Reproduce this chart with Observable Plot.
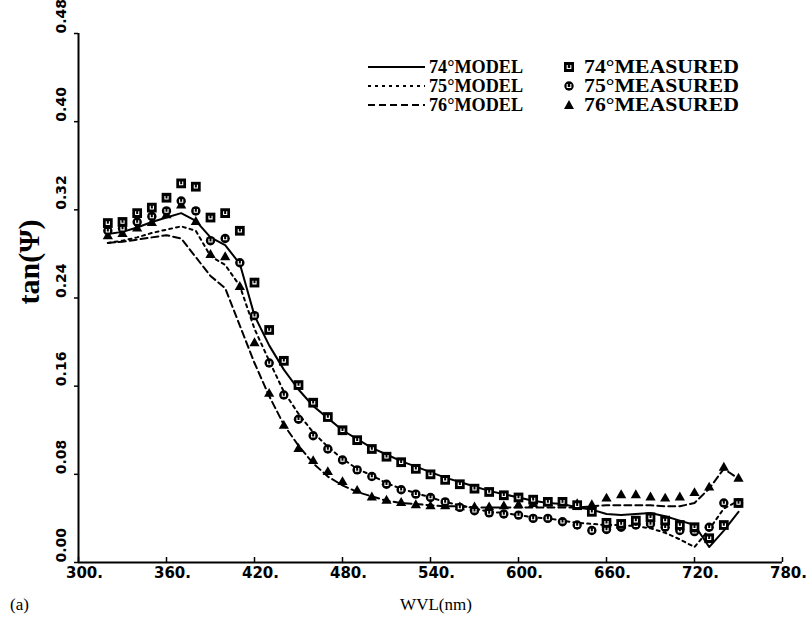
<!DOCTYPE html>
<html><head><meta charset="utf-8">
<script src="https://cdn.jsdelivr.net/npm/d3@7"></script>
<script src="https://cdn.jsdelivr.net/npm/@observablehq/plot@0.6"></script>
<style>
body{margin:0;background:#fff;}
#wrap{position:relative;width:812px;height:619px;background:#fff;}
#wrap svg.plot{position:absolute;left:0;top:0;}
.ov{position:absolute;font-family:"Liberation Serif",serif;color:#000;white-space:nowrap;}
#legend{position:absolute;left:0;top:0;}
</style></head><body><div id="wrap"></div>
<script>
const wl = [320,330,340,350,360,370,380,390,400,410,420,430,440,450,460,470,480,490,500,510,520,530,540,550,560,570,580,590,600,610,620,630,640,650,660,670,680,690,700,710,720,730,740,750];
const model74 = [0.298,0.300,0.304,0.309,0.313,0.317,0.310,0.295,0.288,0.271,0.224,0.197,0.175,0.157,0.142,0.131,0.120,0.112,0.104,0.098,0.092,0.087,0.082,0.077,0.073,0.069,0.065,0.062,0.059,0.056,0.054,0.053,0.050,0.048,0.044,0.043,0.044,0.045,0.042,0.038,0.034,0.014,0.029,0.046];
const model75 = [0.290,0.292,0.295,0.299,0.302,0.305,0.301,0.278,0.270,0.251,0.212,0.183,0.155,0.135,0.118,0.105,0.094,0.085,0.079,0.072,0.067,0.063,0.059,0.055,0.052,0.049,0.046,0.045,0.043,0.041,0.040,0.038,0.036,0.035,0.034,0.034,0.033,0.031,0.027,0.021,0.014,0.030,0.049,0.056];
const model76 = [0.290,0.291,0.293,0.295,0.297,0.294,0.277,0.260,0.249,0.215,0.181,0.151,0.125,0.106,0.090,0.078,0.070,0.064,0.060,0.056,0.054,0.053,0.052,0.051,0.051,0.050,0.050,0.050,0.050,0.050,0.050,0.050,0.050,0.051,0.052,0.052,0.052,0.052,0.051,0.051,0.054,0.067,0.085,0.076];
const meas74 = [0.308,0.309,0.317,0.322,0.331,0.344,0.341,0.313,0.317,0.301,0.254,0.211,0.183,0.161,0.145,0.132,0.120,0.111,0.103,0.096,0.091,0.085,0.080,0.075,0.071,0.067,0.064,0.061,0.059,0.057,0.055,0.055,0.052,0.046,0.036,0.035,0.038,0.041,0.038,0.034,0.032,0.022,0.034,0.054];
const meas75 = [0.301,0.303,0.309,0.314,0.319,0.328,0.319,0.292,0.294,0.272,0.224,0.181,0.152,0.130,0.115,0.103,0.093,0.084,0.078,0.071,0.066,0.062,0.059,0.055,0.050,0.047,0.045,0.044,0.043,0.040,0.040,0.037,0.034,0.029,0.030,0.032,0.034,0.035,0.032,0.029,0.028,0.032,0.054,0.054];
const meas76 = [0.296,0.298,0.303,0.308,0.315,0.324,0.309,0.279,0.277,0.250,0.199,0.153,0.124,0.103,0.092,0.082,0.073,0.065,0.059,0.056,0.054,0.052,0.051,0.051,0.050,0.050,0.050,0.051,0.052,0.053,0.054,0.054,0.053,0.052,0.058,0.061,0.061,0.059,0.058,0.059,0.063,0.068,0.086,0.076];
const xTicks = [300,360,420,480,540,600,660,720,780];
const xTickLabels = ["300.","360.","420.","480.","540.","600.","660.","720.","780."];
const yTicks = [0,0.08,0.16,0.24,0.32,0.40,0.48];
const yTickLabels = ["0.00","0.08","0.16","0.24","0.32","0.40","0.48"];
const legendModel = ["74°MODEL","75°MODEL","76°MODEL"];
const legendMeas = ["74°MEASURED","75°MEASURED","76°MEASURED"];

const rows = wl.map((w,i)=>({w, s74:model74[i], s75:model75[i], s76:model76[i], m74:meas74[i], m75:meas75[i], m76:meas76[i]}));

// small white "u" glyph drawn inside the square and circle markers
const uMark = {
  draw(ctx, size) {
    const r = Math.sqrt(size / Math.PI);
    ctx.moveTo(-r * 0.6, -r * 0.7);
    ctx.lineTo(-r * 0.6, r * 0.5);
    ctx.lineTo(r * 0.6, r * 0.5);
    ctx.lineTo(r * 0.6, -r * 0.7);
  }
};

const DOT = "3,4", DASH = "7,4";
const tickFont = "DejaVu Sans";
const chart = Plot.plot({
  width: 812, height: 619,
  marginLeft: 78, marginRight: 30, marginTop: 33, marginBottom: 57,
  x: {domain: [300, 780]},
  y: {domain: [0, 0.48]},
  style: {background: "#fff", color: "#000"},
  marks: [
    Plot.axisX({ticks: xTicks, tickSize: -5, tickFormat: () => "", label: null, strokeWidth: 1.5}),
    Plot.axisY({ticks: yTicks, tickSize: 4, tickFormat: () => "", label: null, strokeWidth: 1.5}),
    Plot.ruleY([0], {stroke: "#000", strokeWidth: 2}),
    Plot.ruleX([300], {stroke: "#000", strokeWidth: 2}),
    Plot.text(xTicks, {x: d => d, frameAnchor: "bottom", dy: 15, dx: 6, text: (d, i) => xTickLabels[i],
      fontFamily: tickFont, fontWeight: "bold", fontSize: 15, fill: "#000"}),
    Plot.text(yTicks, {y: d => d, frameAnchor: "left", dx: -17, rotate: -90, textAnchor: "start",
      text: (d, i) => yTickLabels[i], fontFamily: tickFont, fontWeight: "bold", fontSize: 14, fill: "#000"}),
    Plot.line(rows, {x: "w", y: "s74", stroke: "#000", strokeWidth: 2}),
    Plot.line(rows, {x: "w", y: "s75", stroke: "#000", strokeWidth: 2, strokeDasharray: DOT}),
    Plot.line(rows, {x: "w", y: "s76", stroke: "#000", strokeWidth: 2, strokeDasharray: DASH}),
    Plot.dot(rows, {x: "w", y: "m76", symbol: "triangle", fill: "#000", r: 3.8}),
    Plot.dot(rows, {x: "w", y: "m75", symbol: "circle", fill: "#000", r: 4.7}),
    Plot.dot(rows, {x: "w", y: "m75", symbol: uMark, fill: "none", stroke: "#fff", strokeWidth: 1.1, r: 2.6}),
    Plot.dot(rows, {x: "w", y: "m74", symbol: "square", fill: "#000", r: 5.5}),
    Plot.dot(rows, {x: "w", y: "m74", symbol: uMark, fill: "none", stroke: "#fff", strokeWidth: 1.1, r: 2.6})
  ]
});
chart.classList.add("plot");
const wrap = document.getElementById("wrap");
wrap.appendChild(chart);

// legend overlay
const ns = "http://www.w3.org/2000/svg";
const lg = document.createElementNS(ns, "svg");
lg.setAttribute("id", "legend");
lg.setAttribute("width", 812);
lg.setAttribute("height", 140);
const dashes = [null, DOT, DASH];
const rowY = [67, 86, 105];
function el(tag, attrs, text) {
  const e = document.createElementNS(ns, tag);
  for (const k in attrs) e.setAttribute(k, attrs[k]);
  if (text) e.textContent = text;
  lg.appendChild(e);
  return e;
}
function uPath(cx, cy) {
  el("path", {d: `M${cx - 1.8},${cy - 2}V${cy + 1.5}H${cx + 1.8}V${cy - 2}`, fill: "none", stroke: "#fff", "stroke-width": 1.1});
}
legendModel.forEach((t, i) => {
  const l = el("line", {x1: 368, x2: 425, y1: rowY[i], y2: rowY[i], stroke: "#000", "stroke-width": 2});
  if (dashes[i]) l.setAttribute("stroke-dasharray", dashes[i]);
  el("text", {x: 429, y: rowY[i] + 6, "font-family": "Liberation Serif", "font-weight": "bold", "font-size": 18, textLength: 94, lengthAdjust: "spacingAndGlyphs"}, t);
});
legendMeas.forEach((t, i) => {
  const cx = 569, cy = rowY[i];
  if (i === 0) { el("rect", {x: cx - 5, y: cy - 5, width: 10, height: 10, fill: "#000"}); uPath(cx, cy); }
  if (i === 1) { el("circle", {cx, cy, r: 4.7, fill: "#000"}); uPath(cx, cy); }
  if (i === 2) { el("path", {d: `M${cx},${cy - 5}L${cx + 5},${cy + 4}L${cx - 5},${cy + 4}Z`, fill: "#000"}); }
  el("text", {x: 584, y: rowY[i] + 6, "font-family": "Liberation Serif", "font-weight": "bold", "font-size": 18, textLength: 155, lengthAdjust: "spacingAndGlyphs"}, t);
});
wrap.appendChild(lg);

// y axis title
const yt = document.createElement("div");
yt.className = "ov";
yt.style.left = "29px"; yt.style.top = "262px";
yt.style.fontSize = "30px"; yt.style.fontWeight = "bold";
yt.style.transform = "translate(-50%,-50%) rotate(-90deg)";
yt.style.lineHeight = "1";
yt.textContent = "tan(Ψ)";
wrap.appendChild(yt);

// x axis title
const xt = document.createElement("div");
xt.className = "ov";
xt.style.left = "436px"; xt.style.top = "604px";
xt.style.fontSize = "17px";
xt.style.transform = "translate(-50%,-50%)";
xt.style.lineHeight = "1";
xt.textContent = "WVL(nm)";
wrap.appendChild(xt);

const a = document.createElement("div");
a.className = "ov";
a.style.left = "10px"; a.style.top = "596px"; a.style.fontSize = "17px"; a.style.lineHeight = "1";
a.textContent = "(a)";
wrap.appendChild(a);
</script>
</body></html>
